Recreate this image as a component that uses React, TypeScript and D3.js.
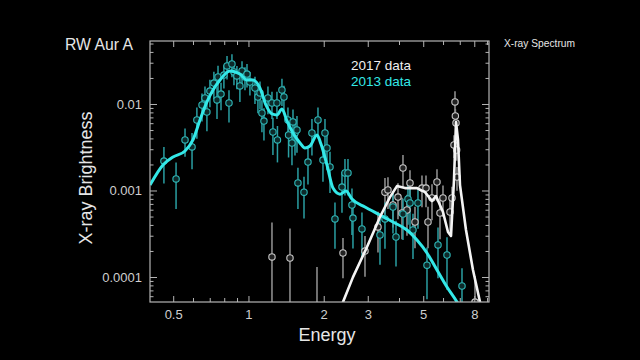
import React from "react";
import * as d3 from "d3";

// ---- data (energy keV, brightness) ----
const cyanModelE = [0.402,0.453,0.497,0.555,0.597,0.637,0.679,0.718,0.766,0.839,0.920,0.982,1.037,1.107,1.169,1.236,1.294,1.355,1.419,1.500,1.600,1.675,1.754,1.871,1.941,2.051,2.168,2.312,2.443,2.582,2.911,3.342,3.767,4.285,4.699,5.152,5.649,6.194,6.792,7.4];
const cyanModelV = [0.00117,0.0020,0.00247,0.0029,0.00389,0.00662,0.0107,0.0147,0.0192,0.0244,0.0225,0.0192,0.0192,0.0155,0.00987,0.00777,0.00756,0.00887,0.00645,0.00468,0.00359,0.00314,0.00331,0.00444,0.00349,0.0020,0.00108,0.00092,0.0010,0.000808,0.000653,0.000528,0.000438,0.000354,0.000271,0.000192,0.000122,0.0000777,0.0000521,0.000032];

const whiteModelE = [2.30,2.377,2.606,2.965,3.342,3.664,3.908,4.207,4.699,5.058,5.395,5.598,5.970,6.252,6.427,6.607,6.730,6.855,6.982,7.379,7.870,8.395,8.6];
const whiteModelV = [0.000035,0.000052,0.000101,0.000225,0.0005,0.00085,0.00114,0.00108,0.00108,0.00097,0.000766,0.000875,0.000572,0.000336,0.000302,0.00134,0.00628,0.00389,0.00117,0.000354,0.000122,0.000052,0.000035];

const cyanE = [0.457,0.511,0.555,0.592,0.619,0.649,0.667,0.679,0.698,0.724,0.745,0.752,0.773,0.794,0.817,0.832,0.855,0.871,0.895,0.920,0.938,0.964,0.982,1.009,1.057,1.086,1.107,1.127,1.148,1.191,1.236,1.247,1.294,1.30,1.355,1.380,1.432,1.44,1.486,1.500,1.528,1.556,1.570,1.660,1.722,1.786,1.888,1.977,2.014,2.051,2.109,2.208,2.355,2.421,2.489,2.582,2.606,2.831,3.342,3.499,3.767,3.873,4.130,4.325,4.406,4.529,4.742,5.152,5.702,6.194,7.112];
const cyanV = [0.00222,0.00138,0.00389,0.00323,0.00662,0.00987,0.0119,0.00819,0.0143,0.0177,0.0113,0.0208,0.0132,0.0219,0.0279,0.0104,0.0294,0.0238,0.0214,0.0164,0.0244,0.0208,0.0225,0.0182,0.0155,0.0122,0.0136,0.00797,0.00644,0.0119,0.0104,0.00481,0.0104,0.00389,0.0147,0.0122,0.00662,0.00444,0.00359,0.00628,0.00468,0.00507,0.00124,0.00097,0.00216,0.00468,0.00662,0.00228,0.00468,0.00314,0.0019,0.000475,0.00111,0.00162,0.00162,0.000689,0.000487,0.000364,0.00031,0.000475,0.000653,0.000294,0.000542,0.000808,0.000727,0.000354,0.000727,0.000139,0.000238,0.000182,0.0000798];
const cyanErr = [0.001,0.00076,0.0014,0.00145,0.0026,0.0035,0.0042,0.0033,0.005,0.0062,0.0045,0.0073,0.0046,0.0066,0.0084,0.0042,0.0088,0.0071,0.0064,0.0057,0.0073,0.0062,0.0068,0.0055,0.0054,0.0043,0.0048,0.0032,0.0026,0.0042,0.0036,0.0022,0.0036,0.00175,0.0051,0.0043,0.0026,0.002,0.0016,0.0025,0.0021,0.0023,0.00062,0.00049,0.00097,0.0021,0.0026,0.001,0.0021,0.0014,0.00095,0.00026,0.00055,0.00073,0.00073,0.00038,0.00027,0.0002,0.00017,0.00026,0.00033,0.00016,0.00027,0.0004,0.00036,0.00019,0.00036,0.000083,0.00014,0.00011,0.000048];

const whiteE = [1.236,1.459,1.871,2.377,2.911,3.281,3.499,3.597,3.767,3.945,4.093,4.130,4.285,4.406,4.613,4.920,5.105,5.200,5.395,5.649,5.808,5.970,6.368,6.486,6.607,6.668,6.690,6.730,6.770,6.792,8.017];
const whiteV = [0.000173,0.000168,0.000042,0.000192,0.000202,0.000384,0.00097,0.00103,0.000689,0.00085,0.000557,0.001845,0.000603,0.00124,0.000438,0.00108,0.00108,0.000438,0.00083,0.00127,0.000557,0.00083,0.000572,0.00083,0.0034,0.0107,0.00736,0.00611,0.00298,0.00145,0.000052];
const whiteErr = [0.00026,0.0002,0.00009,0.000094,0.0001,0.00019,0.00044,0.00041,0.00031,0.00038,0.00028,0.00076,0.0003,0.0005,0.00022,0.00043,0.00043,0.00022,0.00037,0.00051,0.00028,0.00033,0.00026,0.00029,0.001,0.0035,0.0015,0.0012,0.00074,0.00044,0.000052];

const xTickLabels = [0.5, 1, 2, 3, 5, 8];
const yTickLabels = [0.0001, 0.001, 0.01];
const legendLabels = ["2017 data", "2013 data"];

const W = 640, H = 360;
const L = 150, R = 489, T = 41, B = 302;
const FONT = "'Liberation Sans', Arial, Helvetica, sans-serif";
const CYAN_LINE = "#33e8e8";
const CYAN_PT = "#2fb8b8";
const CYAN_BAR = "#2a9fa3";
const WHITE_LINE = "#f4f4f4";
const WHITE_PT = "#c8c8c8";
const WHITE_BAR = "#8c8c8c";
const AXIS = "#b4b4b4";

export default function App() {
  const x = d3.scaleLog().domain([0.402, 9.12]).range([L, R]);
  const y = d3.scaleLog().domain([5.21e-5, 0.0542]).range([B, T]);
  const yMin = 1e-6;

  const cyanPath = d3
    .line<[number, number]>()
    .x((d) => x(d[0]))
    .y((d) => y(d[1]))
    .curve(d3.curveMonotoneX)(cyanModelE.map((e, i) => [e, cyanModelV[i]]));
  const whitePath = d3
    .line<[number, number]>()
    .x((d) => x(d[0]))
    .y((d) => y(d[1]))
    .curve(d3.curveLinear)(whiteModelE.map((e, i) => [e, whiteModelV[i]]));

  const yTicks: { v: number; major: boolean }[] = [];
  for (let d = -5; d <= -1; d++) {
    for (let m = 1; m <= 9; m++) {
      const v = m * Math.pow(10, d);
      if (v >= 5.21e-5 && v <= 0.0542) yTicks.push({ v, major: m === 1 });
    }
  }
  const xTicks: { v: number; major: boolean }[] = [];
  for (let d = -1; d <= 0; d++) {
    for (let m = 1; m <= 9; m++) {
      const v = m * Math.pow(10, d);
      if (v >= 0.41 && v <= 9.1) xTicks.push({ v, major: xTickLabels.includes(v) });
    }
  }

  const errBar = (e: number, v: number, err: number) => {
    const lo = Math.max(v - err, yMin);
    return { x: x(e), y1: y(lo), y2: y(v + err) };
  };

  return (
    <div style={{ position: "fixed", left: 0, top: 0, width: W, height: H, background: "#000" }}>
      <svg width={W} height={H} style={{ display: "block", background: "#000" }} fontFamily={FONT}>
        <defs>
          <clipPath id="plotClip">
            <rect x={L} y={T} width={R - L} height={B - T} />
          </clipPath>
        </defs>
        <rect x={0} y={0} width={W} height={H} fill="#000" />

        <text x={65} y={50} fill="#e6e6e6" fontSize={16.5} textLength={68} lengthAdjust="spacingAndGlyphs">RW Aur A</text>
        <text x={504} y={47} fill="#e6e6e6" fontSize={11} textLength={71} lengthAdjust="spacingAndGlyphs">X-ray Spectrum</text>

        <g clipPath="url(#plotClip)">
          {whiteE.map((e, i) => {
            const b = errBar(e, whiteV[i], whiteErr[i]);
            return <line key={"wb" + i} x1={b.x} x2={b.x} y1={b.y1} y2={b.y2} stroke={WHITE_BAR} strokeWidth={1.6} />;
          })}
          {cyanE.map((e, i) => {
            const b = errBar(e, cyanV[i], cyanErr[i]);
            return <line key={"cb" + i} x1={b.x} x2={b.x} y1={b.y1} y2={b.y2} stroke={CYAN_BAR} strokeWidth={1.5} />;
          })}
          {whiteE.map((e, i) => (
            <circle key={"wc" + i} cx={x(e)} cy={y(whiteV[i])} r={3.2} fill="#222" stroke={WHITE_PT} strokeWidth={1.1} />
          ))}
          {cyanE.map((e, i) => (
            <circle key={"cc" + i} cx={x(e)} cy={y(cyanV[i])} r={3.2} fill="#0d2a2a" stroke={CYAN_PT} strokeWidth={1.1} />
          ))}
          <path d={cyanPath ?? ""} fill="none" stroke={CYAN_LINE} strokeWidth={3} strokeLinejoin="round" />
          <path d={whitePath ?? ""} fill="none" stroke={WHITE_LINE} strokeWidth={2.6} strokeLinejoin="round" />
        </g>

        <rect x={L} y={T} width={R - L} height={B - T} fill="none" stroke={AXIS} strokeWidth={1.2} />
        {yTicks.map((t, i) => {
          const yy = y(t.v);
          const len = t.major ? 7 : 3.5;
          return (
            <g key={"yt" + i}>
              <line x1={L} x2={L + len} y1={yy} y2={yy} stroke={AXIS} strokeWidth={1} />
              <line x1={R} x2={R - len} y1={yy} y2={yy} stroke={AXIS} strokeWidth={1} />
            </g>
          );
        })}
        {xTicks.map((t, i) => {
          const xx = x(t.v);
          const len = t.major ? 6 : 4;
          return (
            <g key={"xt" + i}>
              <line x1={xx} x2={xx} y1={B} y2={B - len} stroke={AXIS} strokeWidth={1} />
              <line x1={xx} x2={xx} y1={T} y2={T + len} stroke={AXIS} strokeWidth={1} />
            </g>
          );
        })}
        {yTickLabels.map((v) => (
          <text key={"yl" + v} x={142} y={y(v) + 4.5} fill="#cfcfcf" fontSize={13} textAnchor="end">
            {String(v)}
          </text>
        ))}
        {xTickLabels.map((v) => (
          <text key={"xl" + v} x={x(v)} y={319} fill="#cfcfcf" fontSize={13} textAnchor="middle">
            {String(v)}
          </text>
        ))}

        <text x={327} y={341} fill="#e6e6e6" fontSize={18} textAnchor="middle">Energy</text>
        <text transform="translate(92,178) rotate(-90)" fill="#e6e6e6" fontSize={18} textAnchor="middle">X-ray Brightness</text>

        <text x={351} y={70} fill="#f0f0f0" fontSize={13.5}>{legendLabels[0]}</text>
        <text x={351} y={85.5} fill={CYAN_LINE} fontSize={13.5}>{legendLabels[1]}</text>
      </svg>
    </div>
  );
}
